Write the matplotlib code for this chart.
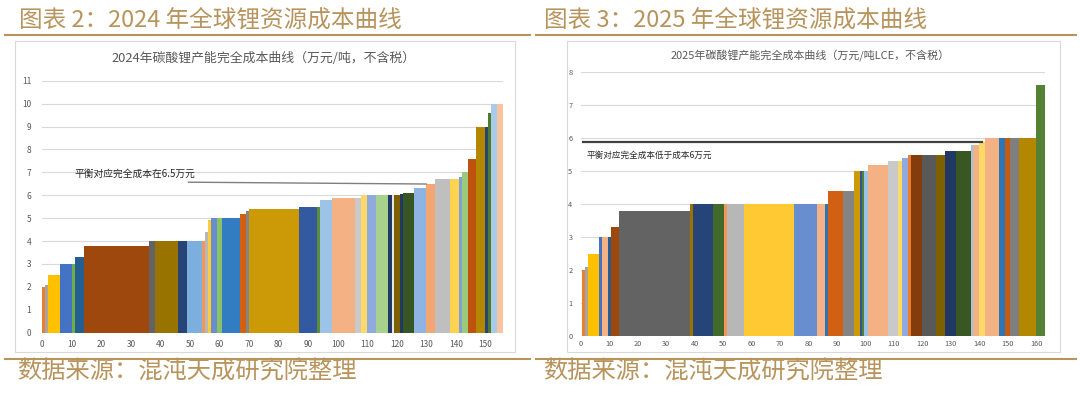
import numpy as np
import matplotlib
matplotlib.use("Agg")
import matplotlib.pyplot as plt
from matplotlib.patches import Rectangle
from matplotlib.lines import Line2D

plt.rcParams['font.family'] = ['Noto Sans CJK SC', 'DejaVu Sans']

# ---------------- data ----------------
# 2024 cost curve: capacity width (x units) and full cost (万元/吨)
cap_2024 = [1, 1, 4, 4, 1, 3, 22, 2, 8, 3, 5, 1, 1, 1, 2, 2, 6, 2, 1, 17,
            6, 1, 4, 8, 2, 2, 3, 4, 1.5, 0.5, 2, 1, 4, 4, 3, 5, 3, 1, 2, 3,
            3, 1, 1, 2, 2]
cost_2024 = [2.0, 2.1, 2.5, 3.0, 3.0, 3.3, 3.8, 4.0, 4.0, 4.0, 4.0, 4.0, 4.4, 4.9,
             5.0, 5.0, 5.0, 5.2, 5.3, 5.4, 5.5, 5.5, 5.8, 5.9, 5.9, 6.0, 6.0, 6.0,
             6.0, 6.0, 6.0, 6.05, 6.1, 6.3, 6.5, 6.7, 6.7, 6.8, 7.0, 7.6, 9.0, 9.0,
             9.6, 10.0, 10.0]

# 2025 cost curve
cap_2025 = [1, 1, 4, 1, 2, 1, 3, 25, 1, 7, 4, 1, 6, 17.5, 8, 3, 1, 5, 4, 2,
            0.7, 0.8, 1.5, 7, 3.5, 1.5, 2, 1, 4, 5, 3, 4, 5, 1, 2, 2, 5, 2, 2, 3,
            6, 3]
cost_2025 = [2.0, 2.1, 2.5, 3.0, 3.0, 3.0, 3.3, 3.8, 4.0, 4.0, 4.0, 4.0, 4.0, 4.0,
             4.0, 4.0, 4.0, 4.4, 4.4, 5.0, 5.0, 5.0, 5.0, 5.2, 5.3, 5.3, 5.4, 5.5,
             5.5, 5.5, 5.5, 5.6, 5.6, 5.8, 5.8, 5.9, 6.0, 6.0, 6.0, 6.0, 6.0, 7.6]

balance_2024 = [6.57, 6.49]   # line level (start, end)
balance_2025 = [5.9, 5.9]

xticks_2024 = list(range(0, 151, 10))
xticks_2025 = list(range(0, 161, 10))
yticks_2024 = list(range(0, 12))
yticks_2025 = list(range(0, 9))

header_left = "图表 2：2024 年全球锂资源成本曲线"
header_right = "图表 3：2025 年全球锂资源成本曲线"
footer = "数据来源：混沌天成研究院整理"
title_2024 = "2024年碳酸锂产能完全成本曲线（万元/吨，不含税）"
title_2025 = "2025年碳酸锂产能完全成本曲线（万元/吨LCE，不含税）"
note_2024 = "平衡对应完全成本在6.5万元"
note_2025 = "平衡对应完全成本低于成本6万元"

# ---------------- styles ----------------
colors_2024 = ['#ED7D31', '#A5A5A5', '#FFC000', '#4472C4', '#70AD47', '#255E91',
               '#9E480E', '#636363', '#997300', '#264478', '#7CAFDD', '#F1975A',
               '#B7B7B7', '#FFCD33', '#698ED0', '#8CC168', '#327DC2', '#D26012',
               '#848484', '#CC9A06', '#335AA1', '#5A8E37', '#9DC3E6', '#F4B183',
               '#C9C9C9', '#FFD966', '#8FAADC', '#A9D18E', '#203864', '#E7E6E6',
               '#7F6000', '#1F3864', '#375623', '#8EB4E3', '#F4A574', '#BFBFBF',
               '#FFD34F', '#7F9FD8', '#9BCB7A', '#BE5310', '#B38700', '#264478',
               '#4E7A2E', '#A9CBEA', '#F8C4A0']
colors_2025 = ['#ED7D31', '#A5A5A5', '#FFC000', '#4472C4', '#F4B183', '#255E91',
               '#9E480E', '#636363', '#997300', '#264478', '#43682B', '#F1975A',
               '#B7B7B7', '#FFC934', '#698ED0', '#F4B183', '#2E75B6', '#D26012',
               '#848484', '#CC9A06', '#2F5597', '#548235', '#9DC3E6', '#F4B183',
               '#C9C9C9', '#FFD966', '#8FAADC', '#ED7D31', '#843C0C', '#595959',
               '#7F6000', '#203864', '#385723', '#9DC3E6', '#F4B183', '#FFD966',
               '#F4B183', '#2E75B6', '#C55A11', '#7F7F7F', '#B38700', '#548235']

GOLD = '#B8945C'
W, H = 1080, 397

fig = plt.figure(figsize=(W / 100, H / 100), dpi=100)
fig.patch.set_facecolor('white')


def fx(px):
    return px / W


def fy(py):
    return 1 - py / H


# frames
for (x1, y1, x2, y2) in [(15, 41, 515, 352), (567, 41, 1060, 352)]:
    fig.add_artist(Rectangle((fx(x1), fy(y2)), fx(x2 - x1), (y2 - y1) / H,
                             transform=fig.transFigure, fill=False,
                             edgecolor='#D9D9D9', lw=0.8))

# header / footer rules
for (x1, x2) in [(5, 530), (536, 1076)]:
    fig.add_artist(Line2D([fx(x1), fx(x2)], [fy(35), fy(35)], transform=fig.transFigure,
                          color=GOLD, lw=1.5))
    fig.add_artist(Line2D([fx(x1), fx(x2)], [fy(359), fy(359)], transform=fig.transFigure,
                          color=GOLD, lw=1.5))

fig.text(fx(19), fy(21), header_left, fontsize=17, color=GOLD, ha='left', va='center')
fig.text(fx(544), fy(21), header_right, fontsize=17, color=GOLD, ha='left', va='center')
fig.text(fx(17), fy(372), footer, fontsize=17.5, color=GOLD, ha='left', va='center')
fig.text(fx(543), fy(372), footer, fontsize=17.5, color=GOLD, ha='left', va='center')

fig.text(fx(264), fy(58), title_2024, fontsize=9.3, color='#595959', ha='center', va='center')
fig.text(fx(810), fy(55), title_2025, fontsize=7.9, color='#595959', ha='center', va='center')


def setup(ax, xmax, ymax, xticks, yticks, fs, ypad, xpad):
    ax.set_xlim(0, xmax)
    ax.set_ylim(0, ymax)
    for s in ax.spines.values():
        s.set_visible(False)
    ax.set_yticks(yticks)
    ax.set_xticks(xticks)
    ax.tick_params(length=0, labelsize=fs, labelcolor='#595959')
    ax.tick_params(axis='y', pad=ypad)
    ax.tick_params(axis='x', pad=xpad)
    ax.grid(axis='y', color='#D9D9D9', lw=0.8)
    ax.set_axisbelow(True)
    ax.set_facecolor('none')


# left chart
ax1 = fig.add_axes([fx(42.3), fy(332.7), (503 - 42.3) / W, (332.7 - 80.7) / H])
setup(ax1, 156, 11, xticks_2024, yticks_2024, 6, 8, 5)
left1 = np.concatenate([[0], np.cumsum(cap_2024)[:-1]])
ax1.bar(left1, cost_2024, width=cap_2024, align='edge', color=colors_2024, lw=0)
ax1.plot([49.5, 130], balance_2024, color='#7F7F7F', lw=1)
ax1.text(11, 6.93, note_2024, fontsize=7, color='#262626', ha='left', va='center')

# right chart
ax2 = fig.add_axes([fx(580.7), fy(336), (1044.6 - 580.7) / W, (336 - 72.3) / H])
setup(ax2, 163, 8, xticks_2025, yticks_2025, 5.3, 6, 3)
left2 = 0.5 + np.concatenate([[0], np.cumsum(cap_2025)[:-1]])
ax2.bar(left2, cost_2025, width=cap_2025, align='edge', color=colors_2025, lw=0)
ax2.plot([0.9, 141], balance_2025, color='#404040', lw=1.6)
ax2.text(2.1, 5.47, note_2025, fontsize=6.2, color='#262626', ha='left', va='center')

fig.savefig('out.png', dpi=100)
